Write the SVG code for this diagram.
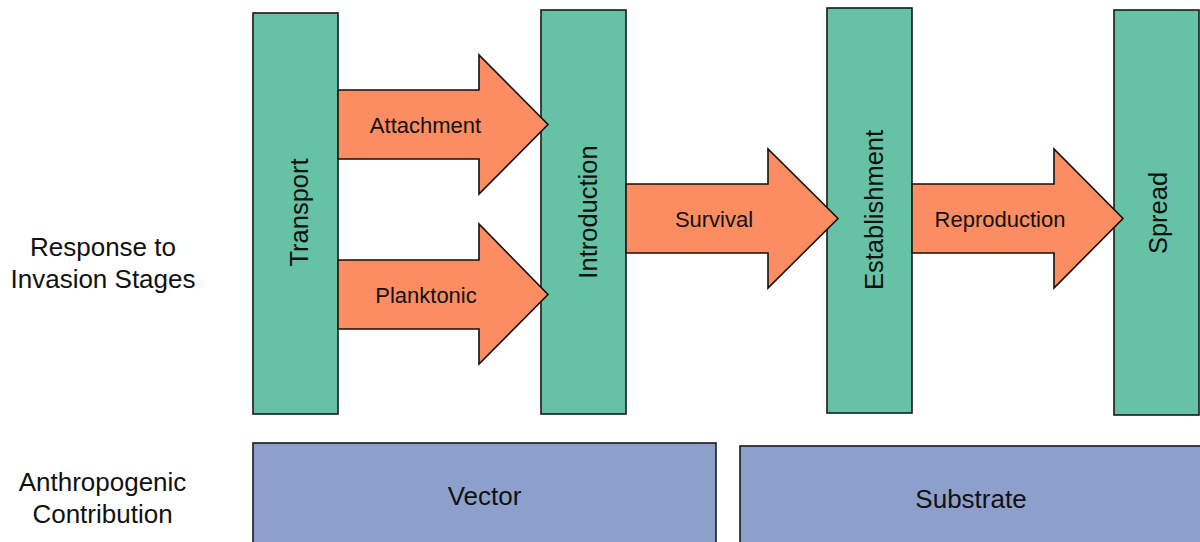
<svg xmlns="http://www.w3.org/2000/svg" width="1200" height="542" viewBox="0 0 1200 542">
<style>
.stage{fill:#66c2a5;stroke:#1a1a1a;stroke-width:1.6}
.contrib{fill:#8da0cb;stroke:#1a1a1a;stroke-width:1.6}
.arrow{fill:#fc8d62;stroke:#111;stroke-width:1.6;stroke-linejoin:miter}
text{font-family:"Liberation Sans",Arial,sans-serif;fill:#111}
.lbl{font-size:26px;text-anchor:middle}
.vlbl{font-size:25.5px;text-anchor:middle}
.albl{font-size:22px;text-anchor:middle}
</style>
<rect width="1200" height="542" fill="#fff"/>
<g id="label-response">
<text class="lbl" x="103" y="256">Response to</text>
<text class="lbl" x="103" y="288">Invasion Stages</text>
</g>
<g id="label-anthropogenic">
<text class="lbl" x="102.5" y="491">Anthropogenic</text>
<text class="lbl" x="102.5" y="523">Contribution</text>
</g>
<g id="transport">
<rect class="stage" x="253" y="13" width="85" height="401"/>
<text class="vlbl" transform="translate(307.5,212.5) rotate(-90)">Transport</text>
</g>
<g id="introduction">
<rect class="stage" x="541" y="10" width="85" height="404"/>
<text class="vlbl" transform="translate(596.5,212) rotate(-90)">Introduction</text>
</g>
<g id="establishment">
<rect class="stage" x="827" y="8" width="85" height="405"/>
<text class="vlbl" transform="translate(883,210) rotate(-90)">Establishment</text>
</g>
<g id="spread">
<rect class="stage" x="1114" y="10" width="85" height="405"/>
<text class="vlbl" transform="translate(1167,213) rotate(-90)">Spread</text>
</g>
<g id="vector">
<rect class="contrib" x="253" y="443" width="463" height="110"/>
<text class="lbl" x="484.5" y="505">Vector</text>
</g>
<g id="substrate">
<rect class="contrib" x="740" y="446" width="470" height="110"/>
<text class="lbl" x="971" y="508">Substrate</text>
</g>
<g id="connectors">
<g id="arrow-attachment">
<polygon class="arrow" points="338,90 479,90 479,55 548,124.5 479,194 479,159 338,159"/>
<text class="albl" x="425.5" y="132.5">Attachment</text>
</g>
<g id="arrow-planktonic">
<polygon class="arrow" points="338,260 479,260 479,224 548,294.5 479,364 479,329 338,329"/>
<text class="albl" x="426" y="302.5">Planktonic</text>
</g>
<g id="arrow-survival">
<polygon class="arrow" points="626,184 768,184 768,149 838,218.5 768,288 768,253 626,253"/>
<text class="albl" x="714" y="227">Survival</text>
</g>
<g id="arrow-reproduction">
<polygon class="arrow" points="912,184 1054,184 1054,149 1123,218.5 1054,288 1054,253 912,253"/>
<text class="albl" x="1000" y="227">Reproduction</text>
</g>
</g>
</svg>
